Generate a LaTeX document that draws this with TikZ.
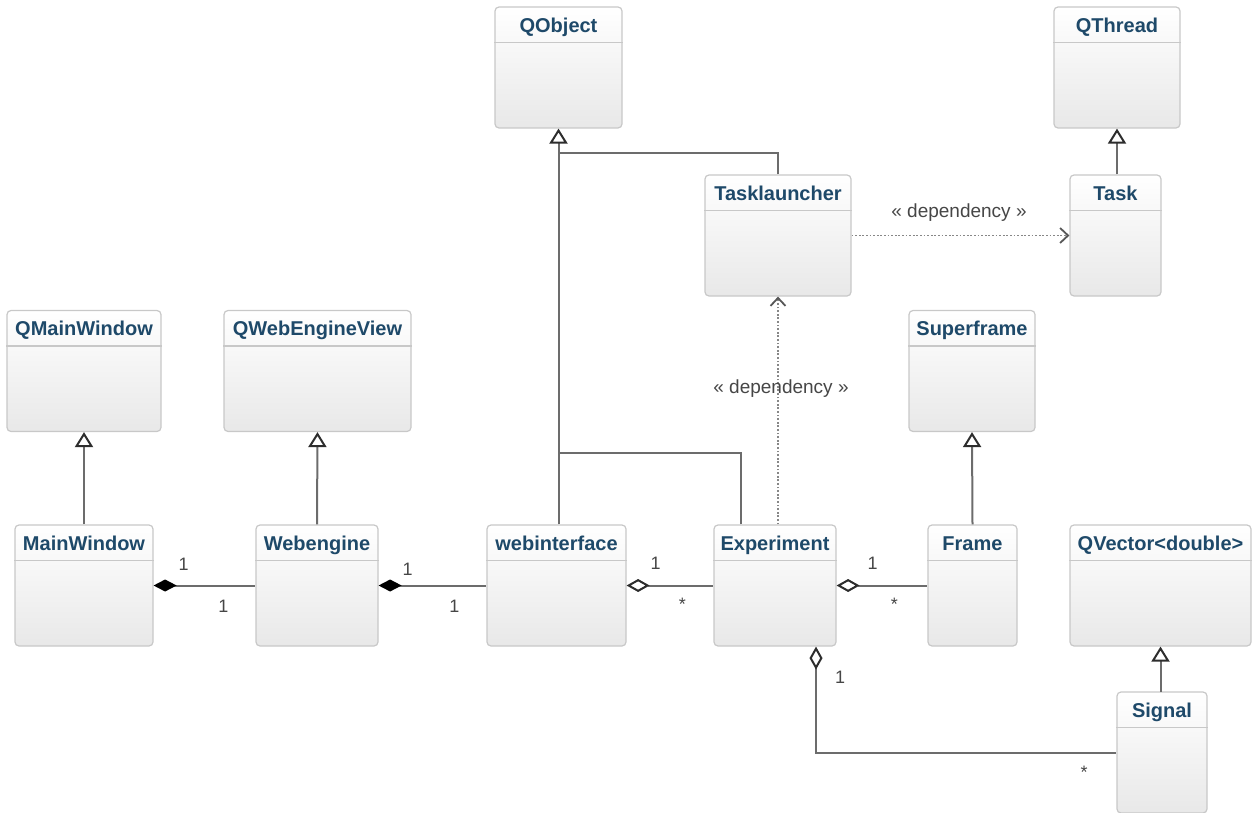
\documentclass[tikz,border=0pt]{standalone}
\usepackage{fontspec}
\setmainfont{Liberation Sans}
\usetikzlibrary{arrows.meta, positioning}

\definecolor{classblue}{RGB}{30,73,105}
\definecolor{linegray}{RGB}{108,108,108}
\definecolor{tipgray}{RGB}{45,45,45}
\definecolor{boxgray}{RGB}{200,200,200}
\definecolor{dotgray}{RGB}{135,135,135}
\definecolor{labelgray}{RGB}{70,70,70}

\tikzset{
  classbox/.style={draw=boxgray, line width=0.6pt, rounded corners=2pt,
    top color=white, bottom color=black!9, minimum height=60.5pt, inner sep=0pt},
  classline/.style={draw=boxgray, line width=0.6pt},
  classname/.style={font=\fontsize{10}{12}\selectfont\bfseries, text=classblue,
    inner sep=0pt, anchor=base},
  mult/.style={font=\fontsize{9}{11}\selectfont, text=labelgray, inner sep=0pt},
  stereo/.style={font=\fontsize{9.5}{11}\selectfont, text=labelgray, inner sep=0pt},
  assoc/.style={draw=linegray, line width=1pt},
  inherit/.style={assoc, -{Triangle[open, fill=white, color=tipgray, length=7.5pt, width=9pt]}},
  compose/.style={assoc, {Diamond[color=black, length=11.5pt, width=6pt]}-},
  aggregate/.style={assoc, {Diamond[open, fill=white, color=tipgray, length=11.5pt, width=6.5pt]}-},
  depend/.style={draw=dotgray, line width=0.9pt, dash pattern=on 0.9pt off 0.9pt,
    -{Straight Barb[color=tipgray!80, length=4pt, width=7.5pt, line width=0.9pt]}}
}

% #1 name, #2 x, #3 y, #4 width (pt), #5 title
\newcommand{\umlclass}[5]{%
  \node[classbox, minimum width=#4pt] (#1) at (#2,#3) {};
  \draw[classline] ([yshift=-18pt]#1.north west) -- ([yshift=-18pt]#1.north east);
  \node[classname] (#1-name) at ([yshift=-13pt]#1.north) {#5};
}

\begin{document}
\begin{tikzpicture}[x=0.5pt, y=-0.5pt]
    \useasboundingbox (0,0) rectangle (1253,813);
    % Top row
    \umlclass{qobject}{558.5}{67.5}{63.5}{QObject}
    \umlclass{qthread}{1117}{67.5}{63}{QThread}
    \umlclass{tasklauncher}{778}{235.5}{73}{Tasklauncher}
    \umlclass{task}{1115.5}{235.5}{45.5}{Task}
    % Qt base classes
    \umlclass{qmainwindow}{84}{371}{77}{QMainWindow}
    \umlclass{qwebengineview}{317.5}{371}{93.5}{QWebEngineView}
    \umlclass{superframe}{972}{371}{63}{Superframe}
    % Bottom row
    \umlclass{mainwindow}{84}{585.5}{69}{MainWindow}
    \umlclass{webengine}{317}{585.5}{61}{Webengine}
    \umlclass{webinterface}{556.5}{585.5}{69.5}{webinterface}
    \umlclass{experiment}{775}{585.5}{61}{Experiment}
    \umlclass{frame}{972.5}{585.5}{44.5}{Frame}
    \umlclass{qvector}{1160.5}{585.5}{90.5}{QVector<double>}
    \umlclass{signal}{1162}{752.5}{45}{Signal}

    % Inheritance
    \draw[inherit] (qobject.south |- webinterface.north) -- (qobject.south);
    \draw[assoc] (tasklauncher.north) |- ([yshift=-12pt]qobject.south);
    \draw[assoc] ([xshift=-17pt]experiment.north) |- ([yshift=-162pt]qobject.south);
    \draw[inherit] (qthread.south |- task.north) -- (qthread.south);
    \draw[inherit] (mainwindow.north) -- (qmainwindow.south);
    \draw[inherit] (webengine.north) -- (qwebengineview.south);
    \draw[inherit] (frame.north) -- (superframe.south);
    \draw[inherit] (signal.north) -- (qvector.south |- signal.north) -- (qvector.south);

    % Dependencies
    \draw[depend] (tasklauncher.east) -- (task.west);
    \node[stereo] (dep1) at (959,213) {« dependency »};
    \draw[depend] (tasklauncher.south |- experiment.north) -- (tasklauncher.south);
    \node[stereo] (dep2) at (781,389) {« dependency »};

    % Composition and aggregation
    \draw[compose] (mainwindow.east) -- (webengine.west);
    \node[mult] (m1) at ([shift={(30,-21)}]mainwindow.east) {1};
    \node[mult] (m2) at ([shift={(-32,21)}]webengine.west) {1};
    \draw[compose] (webengine.east) -- (webinterface.west);
    \node[mult] (m3) at ([shift={(29,-16)}]webengine.east) {1};
    \node[mult] (m4) at ([shift={(-32,21)}]webinterface.west) {1};
    \draw[aggregate] (webinterface.east) -- (experiment.west);
    \node[mult] (m5) at ([shift={(29,-22)}]webinterface.east) {1};
    \node[mult] (m6) at ([shift={(-31,19)}]experiment.west) {*};
    \draw[aggregate] (experiment.east) -- (frame.west);
    \node[mult] (m7) at ([shift={(36,-22)}]experiment.east) {1};
    \node[mult] (m8) at ([shift={(-33,19)}]frame.west) {*};
    \draw[aggregate] ([xshift=20.5pt]experiment.south) |- (signal.west);
    \node[mult] (m9) at (840,677) {1};
    \node[mult] (m10) at (1084,772) {*};
\end{tikzpicture}
\end{document}
